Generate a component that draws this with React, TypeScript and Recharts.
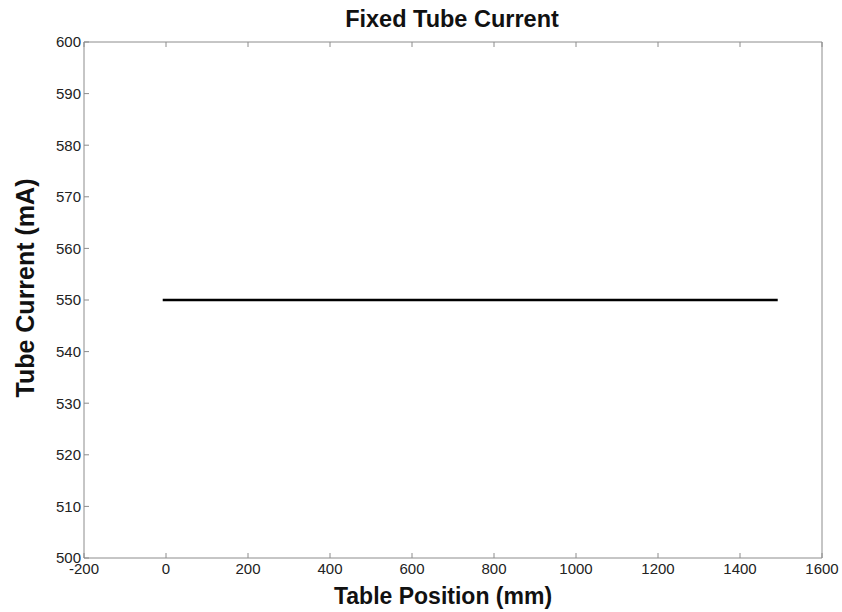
import { LineChart, Line, XAxis, YAxis } from "recharts";

const positions = [-8, 1492];
const currents = [550, 550];
const xTicks = [-200, 0, 200, 400, 600, 800, 1000, 1200, 1400, 1600];
const yTicks = [500, 510, 520, 530, 540, 550, 560, 570, 580, 590, 600];

const data = positions.map((p, i) => ({ pos: p, mA: currents[i] }));

const FONT = '"Liberation Sans", Arial, sans-serif';
const AXIS = "#8c8c8c";
const tickStyle = { fontSize: 15, fill: "#222", fontFamily: FONT };

export default function App() {
  return (
    <div
      style={{
        position: "absolute",
        left: 0,
        top: 0,
        width: 842,
        height: 612,
        background: "#fff",
        fontFamily: FONT,
      }}>
      <div
        style={{
          position: "absolute",
          left: 0,
          width: 904,
          top: 6,
          textAlign: "center",
          fontWeight: "bold",
          fontSize: 23.5,
          color: "#111",
        }}>
        Fixed Tube Current
      </div>
      <div
        style={{
          position: "absolute",
          left: 0,
          width: 886,
          top: 583,
          textAlign: "center",
          fontWeight: "bold",
          fontSize: 23,
          color: "#111",
        }}>
        Table Position (mm)
      </div>
      <div
        style={{
          position: "absolute",
          left: 25,
          top: 288,
          transform: "translate(-50%, -50%) rotate(-90deg)",
          whiteSpace: "nowrap",
          fontWeight: "bold",
          fontSize: 25,
          color: "#111",
        }}>
        Tube Current (mA)
      </div>
      <LineChart
        width={842}
        height={612}
        data={data}
        margin={{ top: 41, right: 19, bottom: 14, left: 24 }}
        style={{ position: "absolute", left: 0, top: 0 }}>
        <XAxis
          xAxisId="bottom"
          dataKey="pos"
          type="number"
          domain={[-200, 1600]}
          ticks={xTicks}
          orientation="bottom"
          height={40}
          tickSize={-5}
          tickMargin={10}
          stroke={AXIS}
          tick={tickStyle}
          interval={0}
        />
        <XAxis
          xAxisId="top"
          dataKey="pos"
          type="number"
          domain={[-200, 1600]}
          ticks={xTicks}
          orientation="top"
          height={1}
          tickSize={-5}
          stroke={AXIS}
          tick={() => <g />}
          interval={0}
        />
        <YAxis
          yAxisId="left"
          type="number"
          domain={[500, 600]}
          ticks={yTicks}
          orientation="left"
          width={60}
          tickSize={-5}
          tickMargin={8}
          stroke={AXIS}
          tick={tickStyle}
          interval={0}
        />
        <YAxis
          yAxisId="right"
          type="number"
          domain={[500, 600]}
          ticks={yTicks}
          orientation="right"
          width={1}
          tickSize={-5}
          stroke={AXIS}
          tick={() => <g />}
          interval={0}
        />
        <Line
          xAxisId="bottom"
          yAxisId="left"
          dataKey="mA"
          stroke="#000"
          strokeWidth={2.5}
          dot={false}
          isAnimationActive={false}
        />
      </LineChart>
    </div>
  );
}
